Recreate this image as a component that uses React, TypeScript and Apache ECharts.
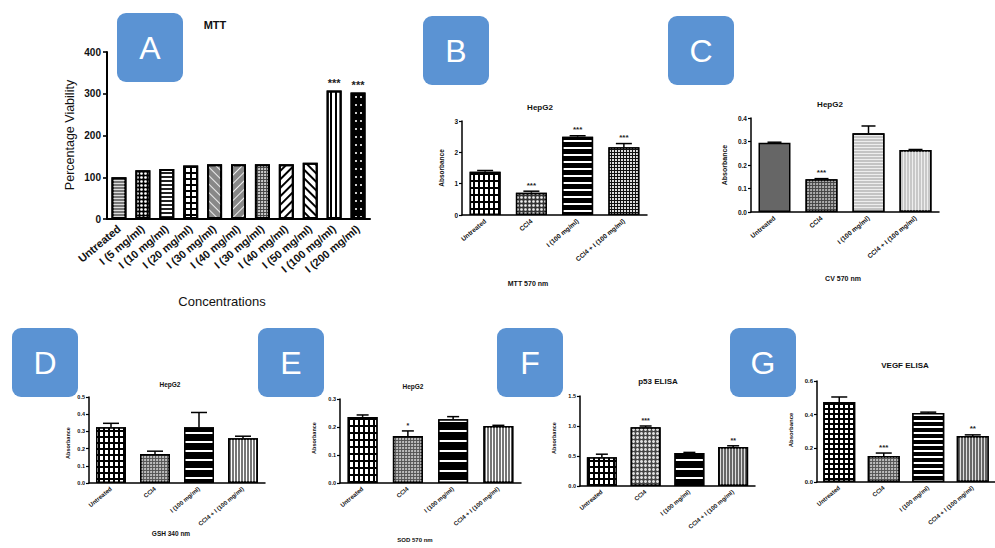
import React, { useEffect, useRef } from "react";
import * as echarts from "echarts";

// ---------- DATA ----------
const catsA = ["Untreated", "I (5 mg/ml)", "I (10 mg/ml)", "I (20 mg/ml)", "I (30 mg/ml)", "I (40 mg/ml)", "I (30 mg/ml)", "I (40 mg/ml)", "I (50 mg/ml)", "I (100 mg/ml)", "I (200 mg/ml)"];
const valsA = [100, 117, 120, 128, 131, 131, 131, 131, 135, 308, 303];
const errA = [100, 117, 120, 128, 131, 131, 131, 131, 135, 308, 303];
const starsA = ["", "", "", "", "", "", "", "", "", "***", "***"];

const catsTreat = ["Untreated", "CCl4", "I (100 mg/ml)", "CCl4 + I (100 mg/ml)"];

const valsB = [1.38, 0.71, 2.5, 2.16];
const errB = [1.42, 0.76, 2.53, 2.28];
const starsB = ["", "***", "***", "***"];

const valsC = [0.295, 0.139, 0.335, 0.264];
const errC = [0.297, 0.142, 0.366, 0.266];
const starsC = ["", "***", "", ""];

const valsD = [0.324, 0.168, 0.324, 0.26];
const errD = [0.347, 0.185, 0.41, 0.272];
const starsD = ["", "", "", ""];

const valsE = [0.236, 0.168, 0.228, 0.204];
const errE = [0.243, 0.186, 0.237, 0.206];
const starsE = ["", "*", "", ""];

const valsF = [0.48, 0.98, 0.55, 0.65];
const errF = [0.53, 1.0, 0.56, 0.67];
const starsF = ["", "***", "", "**"];

const valsG = [0.475, 0.155, 0.41, 0.273];
const errG = [0.505, 0.172, 0.415, 0.28];
const starsG = ["", "***", "", "**"];

// ---------- STYLES ----------
const FONT = "Liberation Sans, Arial, sans-serif";
const hS = (bg: string, fg: string, h: number, g: number, rot = 0) => ({
  color: bg,
  decal: { symbol: "rect", symbolSize: 1, color: fg, dashArrayX: [1, 0], dashArrayY: [h, g], rotation: rot },
});
const vS = (bg: string, fg: string, w: number, g: number) => ({
  color: bg,
  decal: { symbol: "rect", symbolSize: 1, color: fg, dashArrayX: [w, g], dashArrayY: [1, 0], rotation: 0 },
});
const cells = (bg: string, fg: string, w: number, gx: number, h: number, gy: number) => ({
  color: bg,
  decal: { symbol: "rect", symbolSize: 1, color: fg, dashArrayX: [w, gx], dashArrayY: [h, gy], rotation: 0 },
});
const dots = (bg: string, fg: string, s: number, g: number, size = 0.9) => ({
  color: bg,
  decal: { symbol: "circle", symbolSize: size, color: fg, dashArrayX: [s, g], dashArrayY: [s, g], rotation: 0 },
});

const stylesA = [
  hS("#777", "#ddd", 1, 2),
  dots("#000", "#fff", 3, 1),
  hS("#fff", "#222", 1.5, 1.5),
  cells("#000", "#fff", 3.5, 1.2, 3.5, 1.2),
  hS("#888", "#eee", 1, 5, Math.PI / 4),
  hS("#888", "#eee", 1, 5, -Math.PI / 4),
  dots("#444", "#ddd", 2, 1, 1),
  hS("#fff", "#000", 1.3, 4, -Math.PI / 4),
  hS("#fff", "#000", 1.3, 4, Math.PI / 4),
  vS("#fff", "#000", 1.2, 3),
  cells("#000", "#ccc", 2, 3, 2, 6),
];
const stylesB = [
  cells("#000", "#fff", 3, 1.5, 5, 1.2),
  dots("#333", "#eee", 2.5, 1, 0.9),
  hS("#000", "#fff", 1.2, 4.5),
  cells("#111", "#ddd", 1.5, 1, 1.5, 1),
];
const stylesC = [
  { color: "#666" },
  dots("#444", "#bbb", 2, 0.8, 1),
  hS("#c4c4c4", "#eee", 1, 1.5),
  vS("#c8c8c8", "#eee", 1, 1.5),
];
const stylesD = [
  cells("#000", "#fff", 3, 1.5, 4, 1.3),
  dots("#555", "#ccc", 2, 0.8, 1),
  hS("#000", "#fff", 1.3, 7),
  vS("#777", "#fff", 1, 2),
];
const stylesE = [
  cells("#000", "#fff", 3, 1.5, 5, 1.3),
  dots("#555", "#ccc", 2, 0.8, 1),
  hS("#000", "#fff", 1.3, 8),
  vS("#777", "#fff", 1, 2),
];
const stylesF = [
  cells("#000", "#fff", 3, 1.5, 4, 1.3),
  dots("#444", "#ddd", 2.2, 0.8, 1),
  hS("#000", "#fff", 1.3, 7),
  vS("#666", "#ddd", 1, 2),
];
const stylesG = [
  cells("#000", "#fff", 2.5, 1.2, 2.5, 1.2),
  dots("#555", "#ccc", 2, 0.8, 1),
  hS("#000", "#fff", 1.2, 4),
  vS("#666", "#ddd", 1, 2),
];

type Panel = {
  cats: string[];
  vals: number[];
  errs: number[];
  stars: string[];
  styles: any[];
  grid: { left: number; top: number; width: number; height: number };
  max: number;
  interval: number;
  dec: number;
  barWidth: number;
  tickFont: number;
  labelFont: number;
  axisW: number;
  starFont: number;
  cap: number;
};

const panels: Panel[] = [
  { cats: catsA, vals: valsA, errs: errA, stars: starsA, styles: stylesA, grid: { left: 107, top: 52, width: 263, height: 167 }, max: 400, interval: 100, dec: 0, barWidth: 15, tickFont: 10, labelFont: 11, axisW: 2, starFont: 11, cap: 6 },
  { cats: catsTreat, vals: valsB, errs: errB, stars: starsB, styles: stylesB, grid: { left: 462, top: 121, width: 185, height: 94 }, max: 3, interval: 1, dec: 0, barWidth: 31, tickFont: 6.5, labelFont: 6.5, axisW: 1.5, starFont: 8, cap: 8 },
  { cats: catsTreat, vals: valsC, errs: errC, stars: starsC, styles: stylesC, grid: { left: 751, top: 118, width: 188, height: 94 }, max: 0.4, interval: 0.1, dec: 1, barWidth: 32, tickFont: 6.5, labelFont: 6.5, axisW: 1.5, starFont: 8, cap: 7 },
  { cats: catsTreat, vals: valsD, errs: errD, stars: starsD, styles: stylesD, grid: { left: 89, top: 397, width: 176, height: 86 }, max: 0.5, interval: 0.1, dec: 1, barWidth: 30, tickFont: 5.5, labelFont: 6, axisW: 1.5, starFont: 7, cap: 8 },
  { cats: catsTreat, vals: valsE, errs: errE, stars: starsE, styles: stylesE, grid: { left: 340, top: 399, width: 181, height: 84 }, max: 0.3, interval: 0.1, dec: 1, barWidth: 30, tickFont: 5.5, labelFont: 6, axisW: 1.5, starFont: 7, cap: 6 },
  { cats: catsTreat, vals: valsF, errs: errF, stars: starsF, styles: stylesF, grid: { left: 580, top: 396, width: 175, height: 90 }, max: 1.5, interval: 0.5, dec: 1, barWidth: 30, tickFont: 5.5, labelFont: 6, axisW: 1.5, starFont: 7, cap: 6 },
  { cats: catsTreat, vals: valsG, errs: errG, stars: starsG, styles: stylesG, grid: { left: 817, top: 381, width: 189, height: 101 }, max: 0.6, interval: 0.2, dec: 1, barWidth: 32, tickFont: 6, labelFont: 6, axisW: 1.5, starFont: 8, cap: 8 },
];

const letters = [
  { t: "A", x: 117, y: 13 },
  { t: "B", x: 423, y: 16 },
  { t: "C", x: 668, y: 16 },
  { t: "D", x: 12, y: 328 },
  { t: "E", x: 258, y: 328 },
  { t: "F", x: 497, y: 328 },
  { t: "G", x: 730, y: 328 },
];

const titles = [
  { t: "MTT", x: 215, y: 25, s: 11 },
  { t: "HepG2", x: 540, y: 107, s: 8 },
  { t: "HepG2", x: 830, y: 104, s: 8 },
  { t: "HepG2", x: 170, y: 384, s: 6.5 },
  { t: "HepG2", x: 413, y: 386, s: 6.5 },
  { t: "p53 ELISA", x: 658, y: 381, s: 8 },
  { t: "VEGF ELISA", x: 905, y: 365, s: 8 },
  { t: "Concentrations", x: 222, y: 301, s: 13, w: "normal" },
  { t: "MTT 570 nm", x: 528, y: 283, s: 7 },
  { t: "CV 570 nm", x: 843, y: 278, s: 7 },
  { t: "GSH 340 nm", x: 171, y: 533, s: 6.5 },
  { t: "SOD 570 nm", x: 415, y: 540, s: 6 },
];

const yNames = [
  { t: "Percentage Viability", x: 70, y: 135, s: 12.5 },
  { t: "Absorbance", x: 441, y: 168, s: 6.5 },
  { t: "Absorbance", x: 724, y: 165, s: 7 },
  { t: "Absorbance", x: 68, y: 443, s: 5.5 },
  { t: "Absorbance", x: 314, y: 438, s: 5.5 },
  { t: "Absorbance", x: 554, y: 438, s: 5.5 },
  { t: "Absorbance", x: 791, y: 430, s: 6 },
];

function buildOption() {
  const grid: any[] = [];
  const xAxis: any[] = [];
  const yAxis: any[] = [];
  const series: any[] = [];
  panels.forEach((p, i) => {
    grid.push({ ...p.grid, containLabel: false });
    xAxis.push({
      type: "category",
      gridIndex: i,
      data: p.cats,
      axisLine: { lineStyle: { color: "#000", width: p.axisW } },
      axisTick: { alignWithLabel: true, length: i === 0 ? 4 : 3, lineStyle: { color: "#000", width: p.axisW * 0.8 } },
      axisLabel: { interval: 0, rotate: 40, fontSize: p.labelFont, fontFamily: FONT, fontWeight: "bold", color: "#111", margin: i === 0 ? 8 : 5 },
    });
    yAxis.push({
      type: "value",
      gridIndex: i,
      min: 0,
      max: p.max,
      interval: p.interval,
      axisLine: { show: true, lineStyle: { color: "#000", width: p.axisW } },
      axisTick: { show: true, length: i === 0 ? 4 : 3, lineStyle: { color: "#000", width: p.axisW * 0.8 } },
      splitLine: { show: false },
      axisLabel: {
        fontSize: p.tickFont,
        fontFamily: FONT,
        fontWeight: "bold",
        color: "#111",
        margin: i === 0 ? 6 : 4,
        formatter: (v: number) => v.toFixed(p.dec),
      },
    });
    series.push({
      type: "bar",
      xAxisIndex: i,
      yAxisIndex: i,
      barWidth: p.barWidth,
      data: p.vals.map((v, k) => ({
        value: v,
        itemStyle: { ...p.styles[k], borderColor: "#000", borderWidth: i === 0 ? 2 : 1.5 },
      })),
    });
    series.push({
      type: "custom",
      xAxisIndex: i,
      yAxisIndex: i,
      z: 5,
      data: p.vals.map((v, k) => [k, v, p.errs[k]]),
      renderItem: (params: any, api: any) => {
        const k = api.value(0);
        const v = api.value(1);
        const e = api.value(2);
        const p0 = api.coord([k, v]);
        const p1 = api.coord([k, e]);
        const children: any[] = [];
        if (e > v) {
          children.push({ type: "line", shape: { x1: p0[0], y1: p0[1], x2: p1[0], y2: p1[1] }, style: { stroke: "#000", lineWidth: 1.5 } });
          children.push({ type: "line", shape: { x1: p1[0] - p.cap, y1: p1[1], x2: p1[0] + p.cap, y2: p1[1] }, style: { stroke: "#000", lineWidth: 1.5 } });
        }
        const s = p.stars[params.dataIndex];
        if (s) {
          children.push({
            type: "text",
            x: p1[0],
            y: p1[1] - 2,
            style: { text: s, fontSize: p.starFont, fontFamily: FONT, fontWeight: "bold", fill: "#222", align: "center", verticalAlign: "bottom" },
          });
        }
        return { type: "group", children };
      },
    });
  });

  const graphic: any[] = [];
  letters.forEach((l) => {
    graphic.push({ type: "rect", shape: { x: l.x, y: l.y, width: 66, height: 69, r: 9 }, style: { fill: "#5b93d3" }, z: 10 });
    graphic.push({
      type: "text",
      x: l.x + 33,
      y: l.y + 35,
      z: 11,
      style: { text: l.t, fontSize: 32, fontFamily: FONT, fill: "#fff", align: "center", verticalAlign: "middle" },
    });
  });
  titles.forEach((t: any) => {
    graphic.push({
      type: "text",
      x: t.x,
      y: t.y,
      style: { text: t.t, fontSize: t.s, fontFamily: FONT, fontWeight: t.w || "bold", fill: "#111", align: "center", verticalAlign: "middle" },
    });
  });
  yNames.forEach((t) => {
    graphic.push({
      type: "text",
      x: t.x,
      y: t.y,
      rotation: Math.PI / 2,
      style: { text: t.t, fontSize: t.s, fontFamily: FONT, fontWeight: t.s > 10 ? "normal" : "bold", fill: "#111", align: "center", verticalAlign: "middle" },
    });
  });

  return {
    animation: false,
    backgroundColor: "#fff",
    grid,
    xAxis,
    yAxis,
    series,
    graphic,
  };
}

export default function App() {
  const ref = useRef<HTMLDivElement>(null);
  useEffect(() => {
    if (!ref.current) return;
    const chart = echarts.init(ref.current, undefined, { renderer: "svg" });
    chart.setOption(buildOption() as any);
    return () => chart.dispose();
  }, []);
  return <div ref={ref} style={{ position: "fixed", left: 0, top: 0, width: 995, height: 548, background: "#fff" }} />;
}
